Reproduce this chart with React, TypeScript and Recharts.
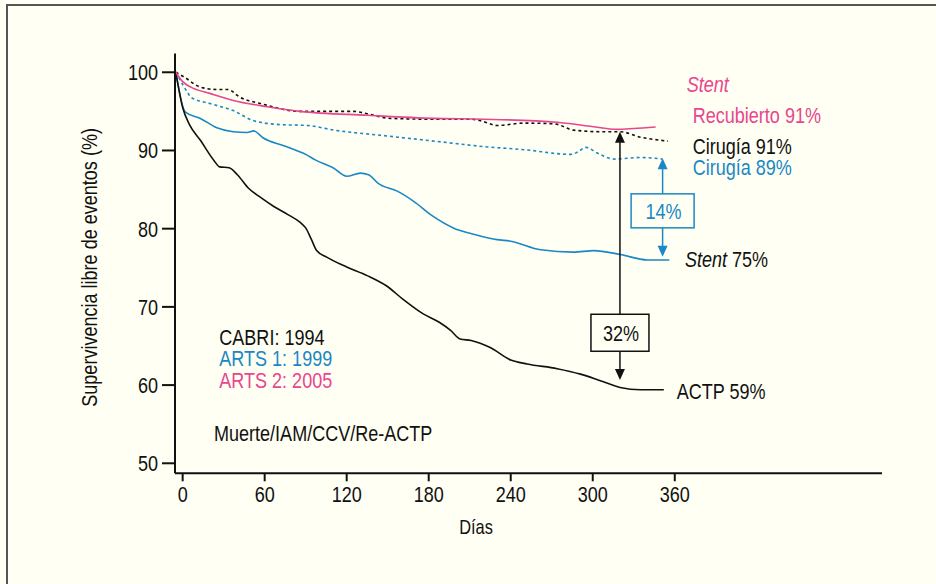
import React from "react";
import { LineChart, Line, XAxis, YAxis, ReferenceLine, ReferenceDot } from "recharts";

const FONT = "'Liberation Sans', Arial, sans-serif";
const SQ = 0.82; // narrow look: Liberation Sans squeezed horizontally
const BG = "#fffff3";
const INK = "#111111";
const BLUE = "#1a88c6";
const PINK = "#e8468f";

const DAY_TICKS = [0, 60, 120, 180, 240, 300, 360];
const SURV_TICKS = [50, 60, 70, 80, 90, 100];

// [día, supervivencia %]
const actpCabri = [
  [-5, 100], [0, 95.5], [5, 93.3], [13, 91.3], [23, 88.7], [27, 87.9], [34, 87.8], [40, 86.9],
  [48, 85.2], [57, 84.0], [67, 82.8], [77, 81.8], [86, 80.8], [90, 80.1], [94, 78.7], [98, 77.2],
  [105, 76.4], [120, 75.1], [135, 74.0], [149, 72.7], [161, 71.0], [176, 69.1], [188, 68.0],
  [196, 67.0], [203, 65.9], [211, 65.7], [225, 64.8], [240, 63.2], [252, 62.7], [274, 62.1],
  [291, 61.4], [305, 60.6], [320, 59.7], [335, 59.4], [352, 59.4],
];
const cirugiaCabri = [
  [-5, 100], [1, 99.4], [13, 98.1], [25, 97.8], [33, 97.8], [42, 96.8], [57, 96.0], [86, 95.0],
  [100, 95.0], [125, 95.0], [135, 94.7], [152, 94.1], [184, 94.0], [210, 94.0], [218, 93.8],
  [230, 93.2], [250, 93.5], [272, 93.4], [286, 92.6], [306, 92.4], [320, 92.4], [335, 91.7],
  [355, 91.2],
];
const stentArts2 = [
  [-5, 100], [0, 98.8], [6, 98.1], [20, 97.3], [37, 96.4], [62, 95.6], [86, 95.0], [135, 94.5],
  [184, 94.1], [220, 94.0], [274, 93.6], [298, 93.1], [318, 92.7], [330, 92.8], [346, 93.0],
];
const cirugiaArts1 = [
  [-5, 100], [4, 97.3], [6, 96.8], [20, 96.0], [37, 95.1], [52, 93.8], [72, 93.3], [91, 93.2],
  [111, 92.6], [147, 91.9], [189, 91.1], [220, 90.5], [250, 90.1], [284, 89.5], [289, 89.8],
  [295, 90.4], [303, 89.7], [316, 88.9], [335, 89.1], [351, 88.9],
];
const stentArts1 = [
  [-5, 100], [2, 94.9], [13, 94.1], [25, 92.9], [37, 92.4], [47, 92.3], [52, 92.5], [59, 91.6],
  [74, 90.6], [91, 89.4], [97, 88.8], [110, 87.8], [120, 86.7], [130, 87.1], [136, 86.9],
  [143, 85.8], [157, 84.8], [169, 83.5], [183, 81.6], [198, 80.1], [215, 79.2], [230, 78.6],
  [240, 78.4], [262, 77.3], [286, 77.0], [301, 77.2], [320, 76.7], [340, 76.0], [356, 76.0],
];

const pts = (rows: number[][]) => rows.map(([d, v]) => ({ d, v }));

// squeezed text helper
const Narrow = ({ x, y, size = 22, fill = INK, anchor = "start", rotate = 0, children }: any) => (
  <text
    transform={`translate(${x}, ${y})${rotate ? ` rotate(${rotate})` : ""} scale(${SQ}, 1)`}
    x={0}
    y={0}
    textAnchor={anchor}
    fill={fill}
    fontSize={size}
    fontFamily={FONT}
  >
    {children}
  </text>
);

const XTick = ({ x, y, payload }: any) => (
  <Narrow x={x} y={y + 15.5} anchor="middle">{payload.value}</Narrow>
);
const YTick = ({ x, y, payload }: any) => (
  <Narrow x={x} y={y + 8} anchor="end">{payload.value}</Narrow>
);

const note = (fill: string, content: React.ReactNode) => (p: any) => (
  <Narrow x={p.cx} y={p.cy + 8} fill={fill}>{content}</Narrow>
);

const arrowShape = (top: number, bottom: number, box: number, w: number, h: number, label: string, color: string) =>
  (p: any) => {
    const x = p.x1;
    const y1 = Math.min(p.y1, p.y2);
    const y2 = Math.max(p.y1, p.y2);
    const by = y1 + ((y2 - y1) * (top - box)) / (top - bottom);
    const head = 11;
    const half = 5;
    return (
      <g>
        <line x1={x} x2={x} y1={y1 + head - 1} y2={by - h / 2} stroke={color} strokeWidth={1.5} />
        <line x1={x} x2={x} y1={by + h / 2} y2={y2 - head + 1} stroke={color} strokeWidth={1.5} />
        <polygon points={`${x},${y1} ${x - half},${y1 + head} ${x + half},${y1 + head}`} fill={color} />
        <polygon points={`${x},${y2} ${x - half},${y2 - head} ${x + half},${y2 - head}`} fill={color} />
        <rect x={x - w / 2} y={by - h / 2} width={w} height={h} fill={BG} stroke={color} strokeWidth={1.5} />
        <Narrow x={x + 1} y={by + 8} anchor="middle" fill={color}>{label}</Narrow>
      </g>
    );
  };

const YTitle = (props: any) => {
  const vb = props.viewBox;
  return (
    <Narrow x={vb.x + 97} y={vb.y + vb.height / 2 + 4} anchor="middle" rotate={-90}>
      Supervivencia libre de eventos (%)
    </Narrow>
  );
};

const XTitle = (props: any) => {
  const vb = props.viewBox;
  return (
    <Narrow x={vb.x + 301} y={vb.y + 61} anchor="middle" size={20}>
      Días
    </Narrow>
  );
};

const App = () => {
  const axisLine = { stroke: INK, strokeWidth: 2 };
  const xDomain = [-5.6, 511.6];
  const yDomain = [48.72, 102.4];
  return (
    <div style={{ position: "absolute", left: 0, top: 0, width: 936, height: 584, background: BG, fontFamily: FONT, overflow: "hidden" }}>
      <div style={{ position: "absolute", left: 6, top: 4, width: 960, height: 620, borderLeft: "2px solid #555", borderTop: "2px solid #555" }} />
      <div style={{ position: "absolute", left: 0, top: 0 }}>
        <LineChart width={936} height={584} margin={{ top: 53.5, right: 54, bottom: 50.7, left: 0 }}>
          <XAxis
            dataKey="d"
            type="number"
            domain={xDomain}
            allowDataOverflow
            ticks={DAY_TICKS}
            tick={<XTick />}
            tickSize={8}
            tickMargin={5}
            tickLine={axisLine}
            axisLine={axisLine}
            height={60}
            label={{ content: <XTitle /> }}
          />
          <XAxis xAxisId="top" orientation="top" type="number" domain={xDomain} tick={false} tickLine={false} axisLine={axisLine} height={0} />
          <YAxis
            type="number"
            domain={yDomain}
            allowDataOverflow
            ticks={SURV_TICKS}
            tick={<YTick />}
            tickSize={13}
            tickMargin={4}
            tickLine={axisLine}
            axisLine={axisLine}
            width={175}
            label={{ content: <YTitle /> }}
          />
          <YAxis yAxisId="right" orientation="right" type="number" domain={yDomain} tick={false} tickLine={false} axisLine={axisLine} width={0} />

          <Line data={pts(stentArts1)} dataKey="v" type="monotone" stroke={BLUE} strokeWidth={1.6} dot={false} isAnimationActive={false} />
          <Line data={pts(cirugiaArts1)} dataKey="v" type="monotone" stroke={BLUE} strokeWidth={1.6} strokeDasharray="3 3" dot={false} isAnimationActive={false} />
          <Line data={pts(actpCabri)} dataKey="v" type="monotone" stroke={INK} strokeWidth={1.6} dot={false} isAnimationActive={false} />
          <Line data={pts(cirugiaCabri)} dataKey="v" type="monotone" stroke={INK} strokeWidth={1.6} strokeDasharray="3 3" dot={false} isAnimationActive={false} />
          <Line data={pts(stentArts2)} dataKey="v" type="monotone" stroke={PINK} strokeWidth={1.6} dot={false} isAnimationActive={false} />

          <ReferenceLine
            segment={[{ x: 319.9, y: 92.39 }, { x: 319.9, y: 60.64 }]}
            ifOverflow="visible"
            shape={arrowShape(92.39, 60.64, 66.69, 58, 37, "32%", INK)}
          />
          <ReferenceLine
            segment={[{ x: 351.1, y: 88.99 }, { x: 351.1, y: 76.41 }]}
            ifOverflow="visible"
            shape={arrowShape(88.99, 76.41, 82.28, 63, 34, "14%", BLUE)}
          />

          <ReferenceDot x={368.7} y={98.46} r={0} ifOverflow="visible" shape={note(PINK, <tspan fontStyle="italic">Stent</tspan>)} />
          <ReferenceDot x={373.1} y={94.5} r={0} ifOverflow="visible" shape={note(PINK, "Recubierto 91%")} />
          <ReferenceDot x={373.1} y={90.6} r={0} ifOverflow="visible" shape={note(INK, "Cirugía 91%")} />
          <ReferenceDot x={373.1} y={87.9} r={0} ifOverflow="visible" shape={note(BLUE, "Cirugía 89%")} />
          <ReferenceDot x={367.4} y={76.06} r={0} ifOverflow="visible" shape={note(INK, <><tspan fontStyle="italic">Stent</tspan> 75%</>)} />
          <ReferenceDot x={361.4} y={59.2} r={0} ifOverflow="visible" shape={note(INK, "ACTP 59%")} />
          <ReferenceDot x={26.8} y={66.1} r={0} ifOverflow="visible" shape={note(INK, "CABRI: 1994")} />
          <ReferenceDot x={26.8} y={63.4} r={0} ifOverflow="visible" shape={note(BLUE, "ARTS 1: 1999")} />
          <ReferenceDot x={26.8} y={60.6} r={0} ifOverflow="visible" shape={note(PINK, "ARTS 2: 2005")} />
          <ReferenceDot x={22.9} y={53.9} r={0} ifOverflow="visible" shape={note(INK, "Muerte/IAM/CCV/Re-ACTP")} />
        </LineChart>
      </div>
    </div>
  );
};

export default App;
